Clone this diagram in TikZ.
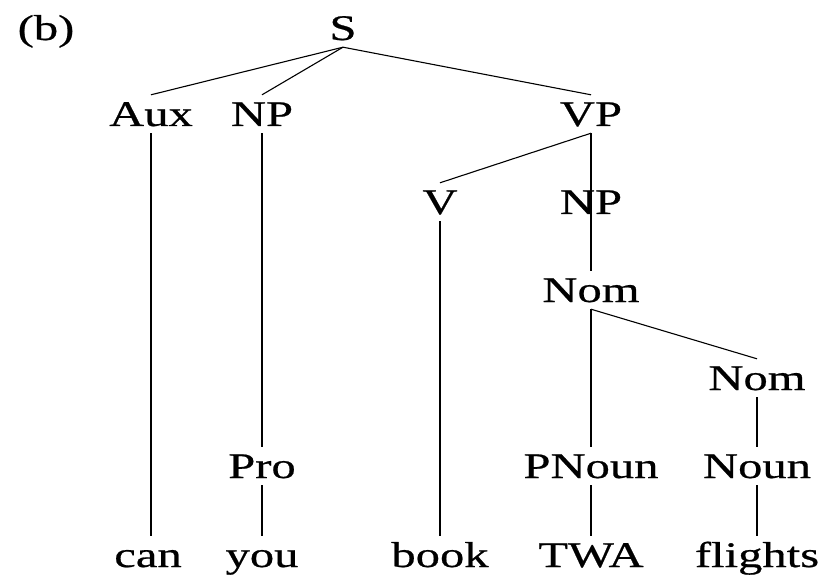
\documentclass[tikz,border=0pt]{standalone}
\usepackage{fontspec}
\setmainfont{Liberation Serif}[FakeStretch=1.35,FakeBold=0.6]
\begin{document}
\begin{tikzpicture}[x=1bp,y=-1bp,
  lab/.style={anchor=base,inner xsep=0pt,inner ysep=7bp,text height=24bp,text depth=0pt,
    font=\fontsize{36bp}{40bp}\selectfont},
  edge/.style={line width=1.1bp,black}]
\useasboundingbox (0,0) rectangle (836,585);
\node[lab] (b) at (46,40) {(b)};
\node[lab] (S) at (343,40) {S};
\node[lab] (Aux) at (151,126) {Aux};
\node[lab] (NP1) at (262,126) {NP};
\node[lab] (VP) at (591,126) {VP};
\node[lab] (V) at (440,214) {V};
\node[lab] (NP2) at (591,214) {NP};
\node[lab] (Nom1) at (591,302) {Nom};
\node[lab] (Nom2) at (757,390) {Nom};
\node[lab] (Pro) at (262,478) {Pro};
\node[lab] (PNoun) at (591,478) {PNoun};
\node[lab] (Noun) at (757,478) {Noun};
\node[lab] (can) at (148,567) {can};
\node[lab] (you) at (262,567) {you};
\node[lab] (book) at (440,567) {book};
\node[lab] (TWA) at (591,567) {TWA};
\node[lab] (flights) at (757,567) {flights};
\draw[edge] (S.south) -- (Aux.north);
\draw[edge] (S.south) -- (NP1.north);
\draw[edge] (S.south) -- (VP.north);
\draw[edge] (VP.south) -- (V.north);
\draw[edge] (VP.south) -- (NP2.center);
\draw[edge] (NP2.center) -- (Nom1.north);
\draw[edge] (Nom1.south) -- (Nom2.north);
\draw[edge] (Nom1.south) -- (PNoun.north);
\draw[edge] (Nom2.south) -- (Noun.north);
\draw[edge] (Aux.south) -- (Aux.south |- can.north);
\draw[edge] (NP1.south) -- (Pro.north);
\draw[edge] (Pro.south) -- (you.north);
\draw[edge] (V.south) -- (book.north);
\draw[edge] (PNoun.south) -- (TWA.north);
\draw[edge] (Noun.south) -- (flights.north);
\end{tikzpicture}
\end{document}
